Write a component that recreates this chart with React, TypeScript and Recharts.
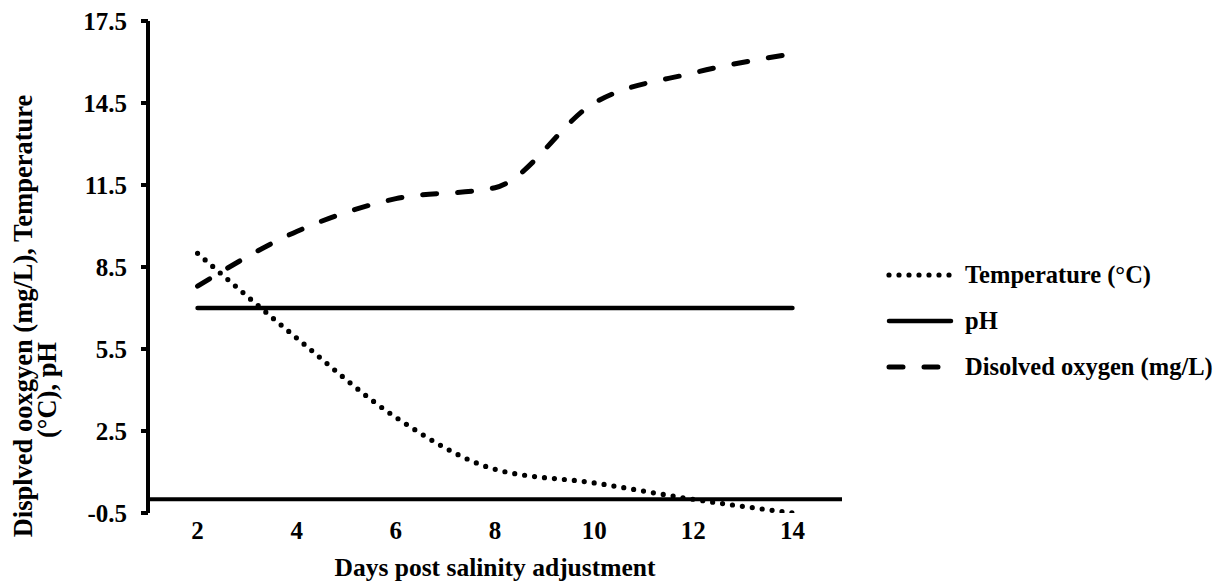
import { LineChart, Line, XAxis, YAxis, ReferenceLine, Legend, Label } from "recharts";

// days after the salinity change
const days = [2, 4, 6, 8, 10, 12, 14];
const temperature = [9.0, 5.9, 3.0, 1.1, 0.6, 0.0, -0.5];
const ph = [7.0, 7.0, 7.0, 7.0, 7.0, 7.0, 7.0];
const dissolvedOxygen = [7.8, 9.8, 11.0, 11.4, 14.5, 15.6, 16.3];
const yTicks = [-0.5, 2.5, 5.5, 8.5, 11.5, 14.5, 17.5];

const data = days.map((day, i) => ({
  day,
  temperature: temperature[i],
  ph: ph[i],
  oxygen: dissolvedOxygen[i],
}));

const FONT = "'Liberation Serif', 'Times New Roman', serif";

const SERIES = [
  { key: "temperature", name: "Temperature (°C)", width: 5.2, dash: "0 10" },
  { key: "ph", name: "pH", width: 4.5, dash: undefined },
  { key: "oxygen", name: "Disolved oxygen (mg/L)", width: 5, dash: "14 21" },
];

function LegendContent({ payload }: { payload?: any[] }) {
  // keep the order of SERIES, whatever order recharts hands back
  const items = SERIES.map((s) => ({
    s,
    entry: (payload ?? []).find((e) => e.dataKey === s.key),
  })).filter((x) => x.entry);

  return (
    <div style={{ fontFamily: FONT, fontWeight: 700, fontSize: 24.5, color: "#000" }}>
      {items.map(({ s, entry }) => (
        <div key={s.key} style={{ display: "flex", alignItems: "center", height: 46 }}>
          <svg width={79} height={10} style={{ flexShrink: 0 }}>
            <line
              x1={3}
              y1={5}
              x2={65}
              y2={5}
              stroke="#000"
              strokeWidth={s.width}
              strokeDasharray={s.dash}
              strokeLinecap="round"
            />
          </svg>
          <span style={{ whiteSpace: "nowrap" }}>{entry.value}</span>
        </div>
      ))}
    </div>
  );
}

function YTitle() {
  return (
    <g fontFamily={FONT} fontWeight={700} fontSize={26.5} fill="#000">
      <text x={23} y={316} textAnchor="middle" dominantBaseline="central" transform="rotate(-90, 23, 316)">
        Displved ooxgyen (mg/L), Temperature
      </text>
      <text x={47} y={390} textAnchor="middle" dominantBaseline="central" transform="rotate(-90, 47, 390)">
        (°C), pH
      </text>
    </g>
  );
}

export default function App() {
  return (
    <div style={{ position: "absolute", left: 0, top: 0, fontFamily: FONT, fontWeight: 700 }}>
      <LineChart width={1217} height={586} data={data} margin={{ top: 21, right: 375, left: 0, bottom: 0 }}>
        <XAxis
          dataKey="day"
          type="category"
          scale="band"
          interval={0}
          axisLine={false}
          tickLine={false}
          tickSize={0}
          tickMargin={8}
          height={73}
          tick={{ fill: "#000", fontSize: 25, fontWeight: 700, fontFamily: FONT }}
        >
          <Label
            value="Days post salinity adjustment"
            position="insideBottom"
            offset={10}
            fill="#000"
            fontSize={25.5}
            fontWeight={700}
            fontFamily={FONT}
          />
        </XAxis>
        <YAxis
          type="number"
          domain={[-0.5, 17.5]}
          ticks={yTicks}
          interval={0}
          allowDataOverflow
          width={148}
          axisLine={{ stroke: "#000", strokeWidth: 4 }}
          tickLine={{ stroke: "#000", strokeWidth: 4 }}
          tickSize={7}
          tickMargin={14}
          tick={{ fill: "#000", fontSize: 25, fontWeight: 700, fontFamily: FONT }}
        >
          <Label content={<YTitle />} />
        </YAxis>
        <ReferenceLine y={0} stroke="#000" strokeWidth={4} />
        {SERIES.map((s) => (
          <Line
            key={s.key}
            type="monotone"
            dataKey={s.key}
            name={s.name}
            stroke="#000"
            strokeWidth={s.width}
            strokeDasharray={s.dash}
            strokeLinecap="round"
            dot={false}
            activeDot={false}
            isAnimationActive={false}
          />
        ))}
        <Legend
          layout="horizontal"
          verticalAlign="middle"
          align="center"
          wrapperStyle={{ left: 886, top: 252, width: 331, height: 138 }}
          content={<LegendContent />}
        />
      </LineChart>
    </div>
  );
}
